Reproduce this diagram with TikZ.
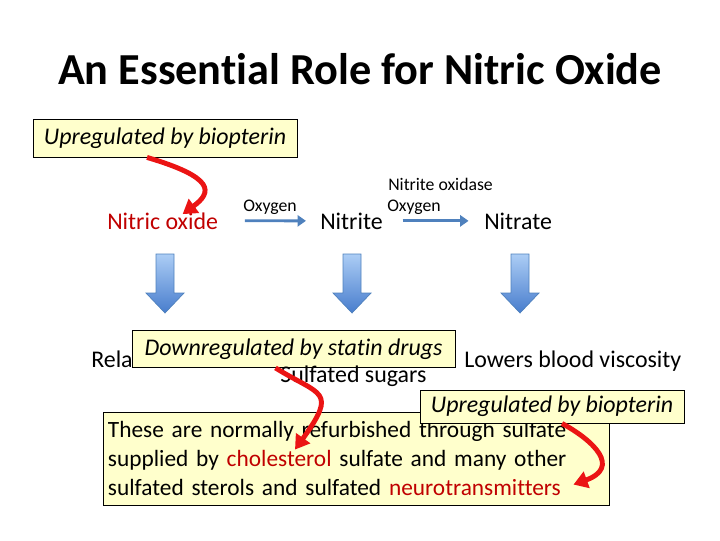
\documentclass[tikz,border=0pt]{standalone}
\usepackage{fontspec}
\setmainfont{Carlito}[Ligatures={NoCommon}]
\usepackage{xcolor}
\usetikzlibrary{calc, positioning, arrows.meta}
\definecolor{notebg}{RGB}{255,255,204}
\definecolor{hotred}{RGB}{235,20,20}
\definecolor{darkred}{RGB}{192,0,0}
\definecolor{flowblue}{RGB}{79,129,189}
\definecolor{shadetop}{RGB}{172,205,245}
\definecolor{shadebot}{RGB}{72,125,205}

\tikzset{
  body/.style={font=\fontsize{17}{20.6}\selectfont, inner sep=0pt},
  small/.style={font=\fontsize{12.6}{15}\selectfont, inner sep=0pt},
  note/.style={draw=black, line width=0.6pt, fill=notebg, inner sep=0pt,
    font=\fontsize{17}{20.6}\selectfont\itshape},
  pointer/.style={draw=hotred, line width=3.5pt, -{Triangle[length=10pt, width=12pt]}},
  flow/.style={draw=flowblue, line width=2pt, -{Triangle[length=6pt, width=8pt]}},
  blockarrow/.style={draw=flowblue, line width=0.5pt, top color=shadetop, bottom color=shadebot}
}

\begin{document}
\begin{tikzpicture}[x=0.025cm, y=-0.025cm]
    \useasboundingbox (0,0) rectangle (720,540);

    \node[font=\fontsize{31.5}{36}\selectfont\bfseries, inner sep=0pt, anchor=base] (title) at (360,84)
        {An Essential Role for Nitric Oxide};

    % reaction row
    \node[body, anchor=base west, text=darkred] (no) at (107,229) {Nitric oxide};
    \node[body, anchor=base west] (nite) at (320,229) {Nitrite};
    \node[body, anchor=base west] (nate) at (484,229) {Nitrate};

    \node[small, anchor=base west] (oxA) at (243,211) {Oxygen};
    \node[small, anchor=base west] (oxB) at (387,211) {Oxygen};
    \node[small, anchor=base west] (oxidase) at (388,190) {Nitrite oxidase};

    \draw[flow, shorten <=19pt, shorten >=10pt] (no.east) -- (nite.west);
    \draw[flow, shorten <=14pt, shorten >=11pt] (nite.east) -- (nate.west);

    % block arrows down
    \foreach \bx in {165,352,520} {
        \shade[blockarrow] (\bx-9,254) -- (\bx+9,254) -- (\bx+9,293) -- (\bx+19,293)
            -- (\bx,313) -- (\bx-19,293) -- (\bx-9,293) -- cycle;
    }

    % effects row
    \node[body, anchor=base west] (relax) at (91,367) {Relaxes vessel};
    \node[body, anchor=base west] (lowers) at (464,367) {Lowers blood viscosity};
    \node[note, minimum width=8.075cm, minimum height=0.925cm] (down) at (293.5,349) {Downregulated by statin drugs};
    \node[body, anchor=base west] (sulf) at (280,382) {Sulfated sugars};

    \node[note, minimum width=6.6cm, minimum height=0.95cm] (upA) at (165,138) {Upregulated by biopterin};

    \node[draw=black, line width=0.6pt, fill=notebg, inner xsep=0.125cm, inner ysep=0pt,
          minimum height=2.325cm, text width=12.4cm, align=left,
          font=\fontsize{16.6}{20.6}\selectfont] (sulfate) at (356,458.5)
        {These are normally refurbished through sulfate\\
         supplied by \textcolor{darkred}{cholesterol} sulfate and many other\\
         sulfated sterols and sulfated \textcolor{darkred}{neurotransmitters}};

    \node[note, minimum width=6.6cm, minimum height=0.825cm] (upB) at (552,406.5) {Upregulated by biopterin};

    % red pointers
    \draw[pointer] ($(upA.south)+(-18,0)$) .. controls +(68,20) and +(30,-22) .. ($(no.north)+(20,2)$);
    \draw[pointer] ($(down.south)+(-18,0)$) .. controls +(45,28) and +(43,-60) .. ($(sulfate.north)+(-61,38)$);
    \draw[pointer] ($(upB.south)+(10,0)$) .. controls +(33,18) and +(47,-17) .. ($(sulfate.north east)+(-36,73)$);
\end{tikzpicture}
\end{document}
